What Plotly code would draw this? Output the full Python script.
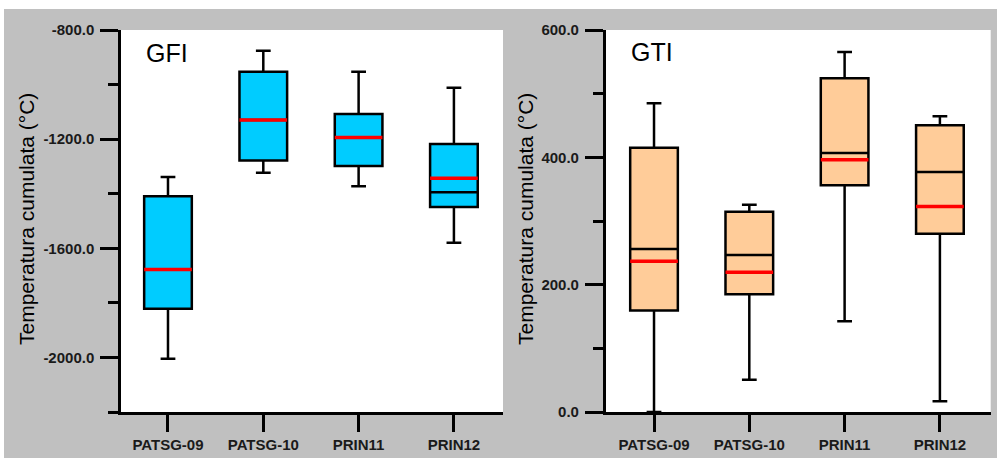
import plotly.graph_objects as go

# ---------------- data ----------------
categories = ["PATSG-09", "PATSG-10", "PRIN11", "PRIN12"]
positions = [0, 1, 2, 3]

gfi_lower = [-2005, -1323, -1373, -1580]
gfi_q1 = [-1822, -1278, -1298, -1449]
gfi_median = [-1678, -1130, -1194, -1395]
gfi_q3 = [-1409, -953, -1108, -1218]
gfi_upper = [-1339, -876, -953, -1012]
gfi_mean = [-1678, -1130, -1194, -1343]

gti_lower = [0, 50.7, 142.4, 16.7]
gti_q1 = [159.6, 184.8, 356.0, 280.0]
gti_median = [256.0, 246.7, 407.0, 377.0]
gti_q3 = [415.2, 314.7, 524.2, 450.3]
gti_upper = [484.9, 325.7, 565.6, 464.4]
gti_mean = [236.6, 219.4, 396.4, 322.6]

gfi_ticks = [-800, -1200, -1600, -2000]
gfi_minor_ticks = [-1000, -1400, -1800, -2200]
gti_ticks = [0, 200, 400, 600]
gti_minor_ticks = [100, 300, 500]

panel_titles = ["GFI", "GTI"]
y_title = "Temperatura cumulata (°C)"

# ---------------- style ----------------
W, H = 997, 458
BOX_W = 0.5
GREY = "#c0c0c0"
FONT = "Liberation Sans, Arial, sans-serif"


def mean_line(pos, means):
    xs, ys = [], []
    for p, m in zip(pos, means):
        xs += [p - BOX_W / 2, p + BOX_W / 2, None]
        ys += [m, m, None]
    return xs, ys


def fmt(v):
    return ("-" if v < 0 else "") + f"{abs(v):.1f}"


fig = go.Figure()

panels = [
    dict(lower=gfi_lower, q1=gfi_q1, med=gfi_median, q3=gfi_q3, upper=gfi_upper,
         mean=gfi_mean, fill="#00ccff", xa="x", ya="y"),
    dict(lower=gti_lower, q1=gti_q1, med=gti_median, q3=gti_q3, upper=gti_upper,
         mean=gti_mean, fill="#ffcc99", xa="x2", ya="y2"),
]

for p in panels:
    fig.add_trace(go.Box(
        x=positions, q1=p["q1"], median=p["med"], q3=p["q3"],
        lowerfence=p["lower"], upperfence=p["upper"],
        fillcolor=p["fill"], line=dict(color="black", width=2.5),
        width=BOX_W, whiskerwidth=0.31, boxpoints=False,
        xaxis=p["xa"], yaxis=p["ya"], showlegend=False, hoverinfo="skip",
    ))
    mx, my = mean_line(positions, p["mean"])
    fig.add_trace(go.Scatter(
        x=mx, y=my, mode="lines", line=dict(color="#ff0000", width=3.5),
        xaxis=p["xa"], yaxis=p["ya"], showlegend=False, hoverinfo="skip",
    ))

ydom = [1 - 412 / H, 1 - 30 / H]

common_x = dict(
    tickmode="array", tickvals=positions, ticktext=categories,
    showline=True, linecolor="black", linewidth=2.5,
    ticks="outside", ticklen=17, tickwidth=2.5, tickcolor="black",
    tickfont=dict(family=FONT, size=15, color="#1a1a1a", weight="bold"),
    showgrid=False, zeroline=False, fixedrange=True, automargin=False,
)
common_y = dict(
    tickmode="array",
    showline=True, linecolor="black", linewidth=2.5,
    ticks="outside", ticklen=18, tickwidth=2.5, tickcolor="black",
    tickfont=dict(family=FONT, size=15, color="#1a1a1a", weight="bold"),
    ticklabelstandoff=3,
    showgrid=False, zeroline=False, fixedrange=True, domain=ydom, automargin=False,
)
minor_common = dict(ticks="outside", ticklen=10, tickwidth=2.5, tickcolor="black",
                    showgrid=False)

fig.update_layout(
    width=W, height=H, autosize=False,
    margin=dict(l=0, r=0, t=0, b=0, pad=0, autoexpand=False),
    paper_bgcolor=GREY, plot_bgcolor="white",
    xaxis=dict(common_x, domain=[121 / W, 503 / W], range=[-0.493, 3.515], anchor="y"),
    yaxis=dict(common_y, range=[-2200, -800], anchor="x",
               tickvals=gfi_ticks, ticktext=[fmt(v) for v in gfi_ticks],
               minor=dict(minor_common, tickvals=gfi_minor_ticks)),
    xaxis2=dict(common_x, domain=[605.7 / W, 990.7 / W], range=[-0.507, 3.533], anchor="y2"),
    yaxis2=dict(common_y, range=[0, 600], anchor="x2",
                tickvals=gti_ticks, ticktext=[fmt(v) for v in gti_ticks],
                minor=dict(minor_common, tickvals=gti_minor_ticks)),
    shapes=[
        dict(type="rect", xref="paper", yref="paper", x0=0, x1=1, y0=1 - 9 / H, y1=1,
             fillcolor="white", line=dict(width=0), layer="below"),
        dict(type="rect", xref="paper", yref="paper", x0=0, x1=4 / W, y0=0, y1=1,
             fillcolor="white", line=dict(width=0), layer="below"),
    ],
    annotations=[
        dict(text=panel_titles[0], xref="paper", yref="paper", x=167 / W, y=1 - 53 / H,
             showarrow=False, font=dict(family=FONT, size=25, color="black"),
             xanchor="center", yanchor="middle"),
        dict(text=panel_titles[1], xref="paper", yref="paper", x=651.5 / W, y=1 - 52 / H,
             showarrow=False, font=dict(family=FONT, size=25, color="black"),
             xanchor="center", yanchor="middle"),
        dict(text=y_title, xref="paper", yref="paper", x=26 / W, y=1 - 219 / H,
             showarrow=False, textangle=-90, font=dict(family=FONT, size=21, color="black"),
             xanchor="center", yanchor="middle"),
        dict(text=y_title, xref="paper", yref="paper", x=525 / W, y=1 - 219 / H,
             showarrow=False, textangle=-90, font=dict(family=FONT, size=21, color="black"),
             xanchor="center", yanchor="middle"),
    ],
)

fig.write_html(
    "out.html",
    config={"displayModeBar": False},
    post_script="document.body.style.margin='0';document.body.style.overflow='hidden';",
)
